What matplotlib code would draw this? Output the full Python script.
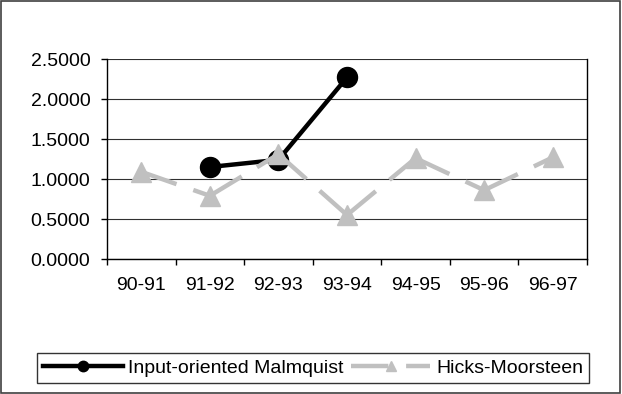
import matplotlib
matplotlib.use("Agg")
import matplotlib.pyplot as plt
import numpy as np
from matplotlib.patches import Rectangle
from matplotlib.lines import Line2D

plt.rcParams['font.family'] = ['Liberation Sans', 'DejaVu Sans']

categories = ["90-91", "91-92", "92-93", "93-94", "94-95", "95-96", "96-97"]
malmquist = [np.nan, 1.15, 1.24, 2.27, np.nan, np.nan, np.nan]
hicks = [1.09, 0.79, 1.31, 0.55, 1.26, 0.86, 1.27]
yticks = [0.0, 0.5, 1.0, 1.5, 2.0, 2.5]
labels = ['Input-oriented Malmquist', 'Hicks-Moorsteen']

FS = 14
GRAY = '#c0c0c0'
dash = (0, (8.4, 4))

fig = plt.figure(figsize=(6.22, 3.94), dpi=100)
ax = fig.add_axes([107/622, 1-259/394, 480/622, 200/394])

x = np.arange(len(categories))
ax.plot(x, malmquist, color='black', lw=3.2, marker='o', ms=14.4, zorder=4)
# Hicks-Moorsteen: each segment dashed on its own (pattern restarts per segment)
for i in range(len(x) - 1):
    ax.plot(x[i:i+2], hicks[i:i+2], color=GRAY, lw=3.2, ls=dash, zorder=5)
ax.plot(x, hicks, ls='none', color=GRAY, marker='^', ms=15, zorder=6)

ax.set_xlim(-0.5, len(categories) - 0.5)
ax.set_ylim(0, 2.5)
ax.set_yticks(yticks)
ax.set_yticklabels([f"{v:.4f}" for v in yticks], fontsize=FS)
ax.set_xticks(x)
ax.set_xticklabels(categories, fontsize=FS)
ax.set_xticks(np.arange(-0.5, len(categories)), minor=True)
ax.tick_params(axis='x', which='major', length=0, pad=13)
ax.tick_params(axis='x', which='minor', length=4, width=1, color='black')
ax.tick_params(axis='y', length=4, width=1, pad=8)
ax.yaxis.grid(True, color='#303030', lw=0.8)
ax.set_axisbelow(True)
ax.spines['top'].set_visible(False)
for s in ['left', 'bottom', 'right']:
    ax.spines[s].set_color('black')
    ax.spines[s].set_linewidth(1)

h1 = Line2D([], [], color='black', lw=3.2, marker='o', ms=14.4)
h2 = Line2D([], [], color=GRAY, lw=3.2, ls=dash, marker='^', ms=15)
leg = fig.legend([h1, h2], labels, loc='center', bbox_to_anchor=(313/622, 1-368/394),
                 ncol=2, fontsize=FS, frameon=True, fancybox=False, edgecolor='black',
                 handlelength=4.1, handletextpad=0.3, columnspacing=0.35,
                 borderpad=0.3, markerscale=0.52, borderaxespad=0)
leg.get_frame().set_linewidth(1)

fig.patches.append(Rectangle((0.002, 0.003), 0.995, 0.994, transform=fig.transFigure,
                             fill=False, edgecolor='#404040', lw=1.2))

fig.savefig("out.png", dpi=100)
